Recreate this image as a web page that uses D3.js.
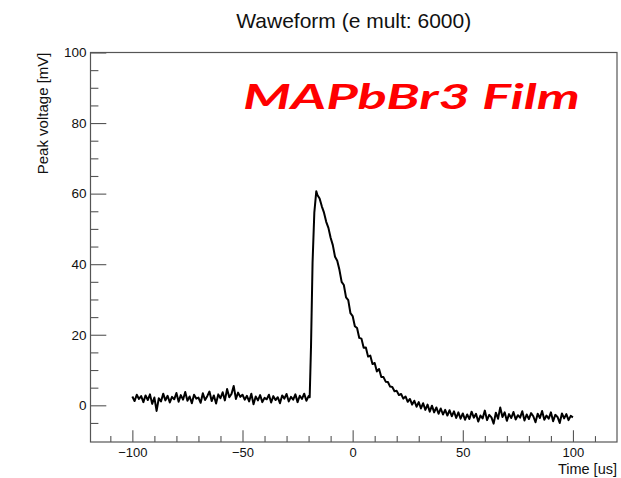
<!DOCTYPE html>
<html>
<head>
<meta charset="utf-8">
<script src="https://cdn.jsdelivr.net/npm/d3@7"></script>
<style>
  body { margin: 0; background: #ffffff; }
  svg text { font-family: "Liberation Sans", Arial, Helvetica, sans-serif; fill: #111; }
</style>
</head>
<body>
<div id="chart"></div>
<script>
// waveform samples
var timeUs = [
  -100,-99,-98,-97,-96,-95,-94,-93,-92,-91,
  -90,-89,-88,-87,-86,-85,-84,-83,-82,-81,
  -80,-79,-78,-77,-76,-75,-74,-73,-72,-71,
  -70,-69,-68,-67,-66,-65,-64,-63,-62,-61,
  -60,-59,-58,-57,-56,-55,-54,-53,-52,-51,
  -50,-49,-48,-47,-46,-45,-44,-43,-42,-41,
  -40,-39,-38,-37,-36,-35,-34,-33,-32,-31,
  -30,-29,-28,-27,-26,-25,-24,-23,-22,-21,
  -20,-19.5,-18.9,-18.2,-17.4,-16.5,
  -16,-15,-14,-13,-12,-11,-10,-9,-8,-7,
  -6,-5,-4,-3,-2,-1,0,1,2,3,
  4,5,6,7,8,9,10,11,12,13,
  14,15,16,17,18,19,20,21,22,23,
  24,25,26,27,28,29,30,31,32,33,
  34,35,36,37,38,39,40,41,42,43,
  44,45,46,47,48,49,50,51,52,53,
  54,55,56,57,58,59,60,61,62,63,
  64,65,66,67,68,69,70,71,72,73,
  74,75,76,77,78,79,80,81,82,83,
  84,85,86,87,88,89,90,91,92,93,
  94,95,96,97,98,99,100
];
var voltageMv = [
  2.5,1.2,3.0,1.8,2.6,0.9,2.8,1.5,3.1,0.4,
  2.2,-1.6,2.0,1.1,3.3,1.4,2.7,0.8,2.4,1.7,
  3.5,1.0,2.9,1.6,3.8,1.3,2.5,0.6,3.0,1.9,
  2.2,0.7,3.4,1.5,2.6,3.9,1.2,2.8,0.5,3.1,
  2.0,3.7,1.4,4.6,2.3,3.2,5.5,1.8,3.6,2.4,
  3.0,1.6,2.7,1.1,3.3,0.3,2.5,1.4,2.9,0.9,
  2.1,1.7,3.0,0.8,2.6,1.5,2.3,0.6,2.8,1.9,
  3.2,1.1,2.4,1.6,3.1,0.9,2.7,1.8,3.3,1.3,
  2.6,2.3,16.7,40.4,54.6,60.7,
  59.6,58.6,56.4,54.6,52.0,50.3,47.5,45.4,42.1,41.0,
  38.4,35.0,34.1,30.6,29.8,26.1,25.3,22.4,21.9,19.1,
  18.9,16.3,16.4,13.8,14.1,11.7,12.0,9.6,10.3,8.0,
  8.0,6.7,6.6,5.3,5.2,4.0,4.1,2.9,3.2,1.9,
  2.5,1.0,1.8,0.2,1.3,-0.4,0.9,-0.9,0.6,-1.3,
  0.2,-1.8,-0.1,-2.0,-0.6,-2.4,-0.9,-2.6,-1.3,-2.9,
  -1.4,-3.1,-1.7,-3.6,-2.0,-3.8,-2.3,-4.1,-2.6,-3.9,
  -1.8,-3.5,-2.4,-4.6,-2.9,-3.7,-1.5,-4.2,-2.7,-3.4,
  -5.2,-2.1,-3.8,-0.6,-3.3,-2.0,-4.4,-2.5,-3.6,-1.9,
  -4.0,-2.8,-3.5,-1.7,-4.3,-2.6,-3.9,-2.2,-3.1,-4.8,
  -2.4,-3.6,-1.6,-4.1,-2.9,-3.8,-2.0,-4.5,-2.7,-3.3,
  -5.0,-2.3,-3.7,-2.5,-4.2,-3.0,-3.4
];

var xMajorTicks = [-100, -50, 0, 50, 100];
var xMinorTicks = [-110,-90,-80,-70,-60,-40,-30,-20,-10,10,20,30,40,60,70,80,90,110];
var yMajorTicks = [0, 20, 40, 60, 80, 100];
var yMinorTicks = [-5,5,10,15,25,30,35,45,50,55,65,70,75,85,90,95];

var chartTitle = "Waweform (e mult: 6000)";
var xTitle = "Time [us]";
var yTitle = "Peak voltage [mV]";
var sampleLabel = "MAPbBr3 Film";

var W = 621, H = 478;
var margin = {top: 52.5, right: 4, bottom: 36, left: 90.5};
var fw = W - margin.left - margin.right;
var fh = H - margin.top - margin.bottom;

var x = d3.scaleLinear().domain([-119, 120]).range([0, fw]);
var y = d3.scaleLinear().domain([-10.4, 100]).range([fh, 0]);

var svg = d3.select('#chart').append('svg')
    .attr('width', W).attr('height', H);

var g = svg.append('g')
    .attr('transform', 'translate(' + margin.left + ',' + margin.top + ')');

// frame (ROOT style, ticks point inside)
g.append('rect')
    .attr('x', 0).attr('y', 0).attr('width', fw).attr('height', fh)
    .attr('fill', 'none').attr('stroke', '#555').attr('stroke-width', 1.2);

// x axis: major + minor
var xAx = g.append('g').attr('transform', 'translate(0,' + fh + ')')
    .call(d3.axisBottom(x).tickValues(xMajorTicks).tickSize(-11.7).tickPadding(5)
        .tickFormat(function(d) { return d < 0 ? '\u2212' + Math.abs(d) : d; }));
g.append('g').attr('transform', 'translate(0,' + fh + ')')
    .call(d3.axisBottom(x).tickValues(xMinorTicks).tickSize(-5.9).tickFormat(''));

// y axis: major + minor
var yAx = g.append('g')
    .call(d3.axisLeft(y).tickValues(yMajorTicks).tickSize(-15.8).tickPadding(4));
g.append('g')
    .call(d3.axisLeft(y).tickValues(yMinorTicks).tickSize(-7.9).tickFormat(''));

g.selectAll('.domain').remove();
g.selectAll('.tick line').attr('stroke', '#555').attr('stroke-width', 1.1);
xAx.selectAll('text').attr('font-size', 13).attr('dy', '0.75em');
yAx.selectAll('text').attr('font-size', 13.5);

// the waveform
var line = d3.line()
    .x(function(d, i) { return x(timeUs[i]); })
    .y(function(d) { return y(d); });

g.append('path')
    .datum(voltageMv)
    .attr('d', line)
    .attr('fill', 'none')
    .attr('stroke', '#000')
    .attr('stroke-width', 2)
    .attr('stroke-linejoin', 'round');

// titles
svg.append('text')
    .attr('x', margin.left + fw / 2).attr('y', 28)
    .attr('text-anchor', 'middle').attr('font-size', 21)
    .text(chartTitle);

svg.append('text')
    .attr('x', margin.left + fw).attr('y', 474)
    .attr('text-anchor', 'end').attr('font-size', 14.5)
    .text(xTitle);

svg.append('text')
    .attr('transform', 'translate(48,' + margin.top + ') rotate(-90)')
    .attr('text-anchor', 'end').attr('font-size', 15)
    .text(yTitle);

svg.append('text')
    .attr('x', 243).attr('y', 109)
    .attr('textLength', 337).attr('lengthAdjust', 'spacingAndGlyphs')
    .style('font-family', 'Lato, "Open Sans", sans-serif')
    .style('font-weight', 'bold').style('font-style', 'italic')
    .style('fill', '#ff0000')
    .attr('font-size', 35)
    .text(sampleLabel);
</script>
</body>
</html>
